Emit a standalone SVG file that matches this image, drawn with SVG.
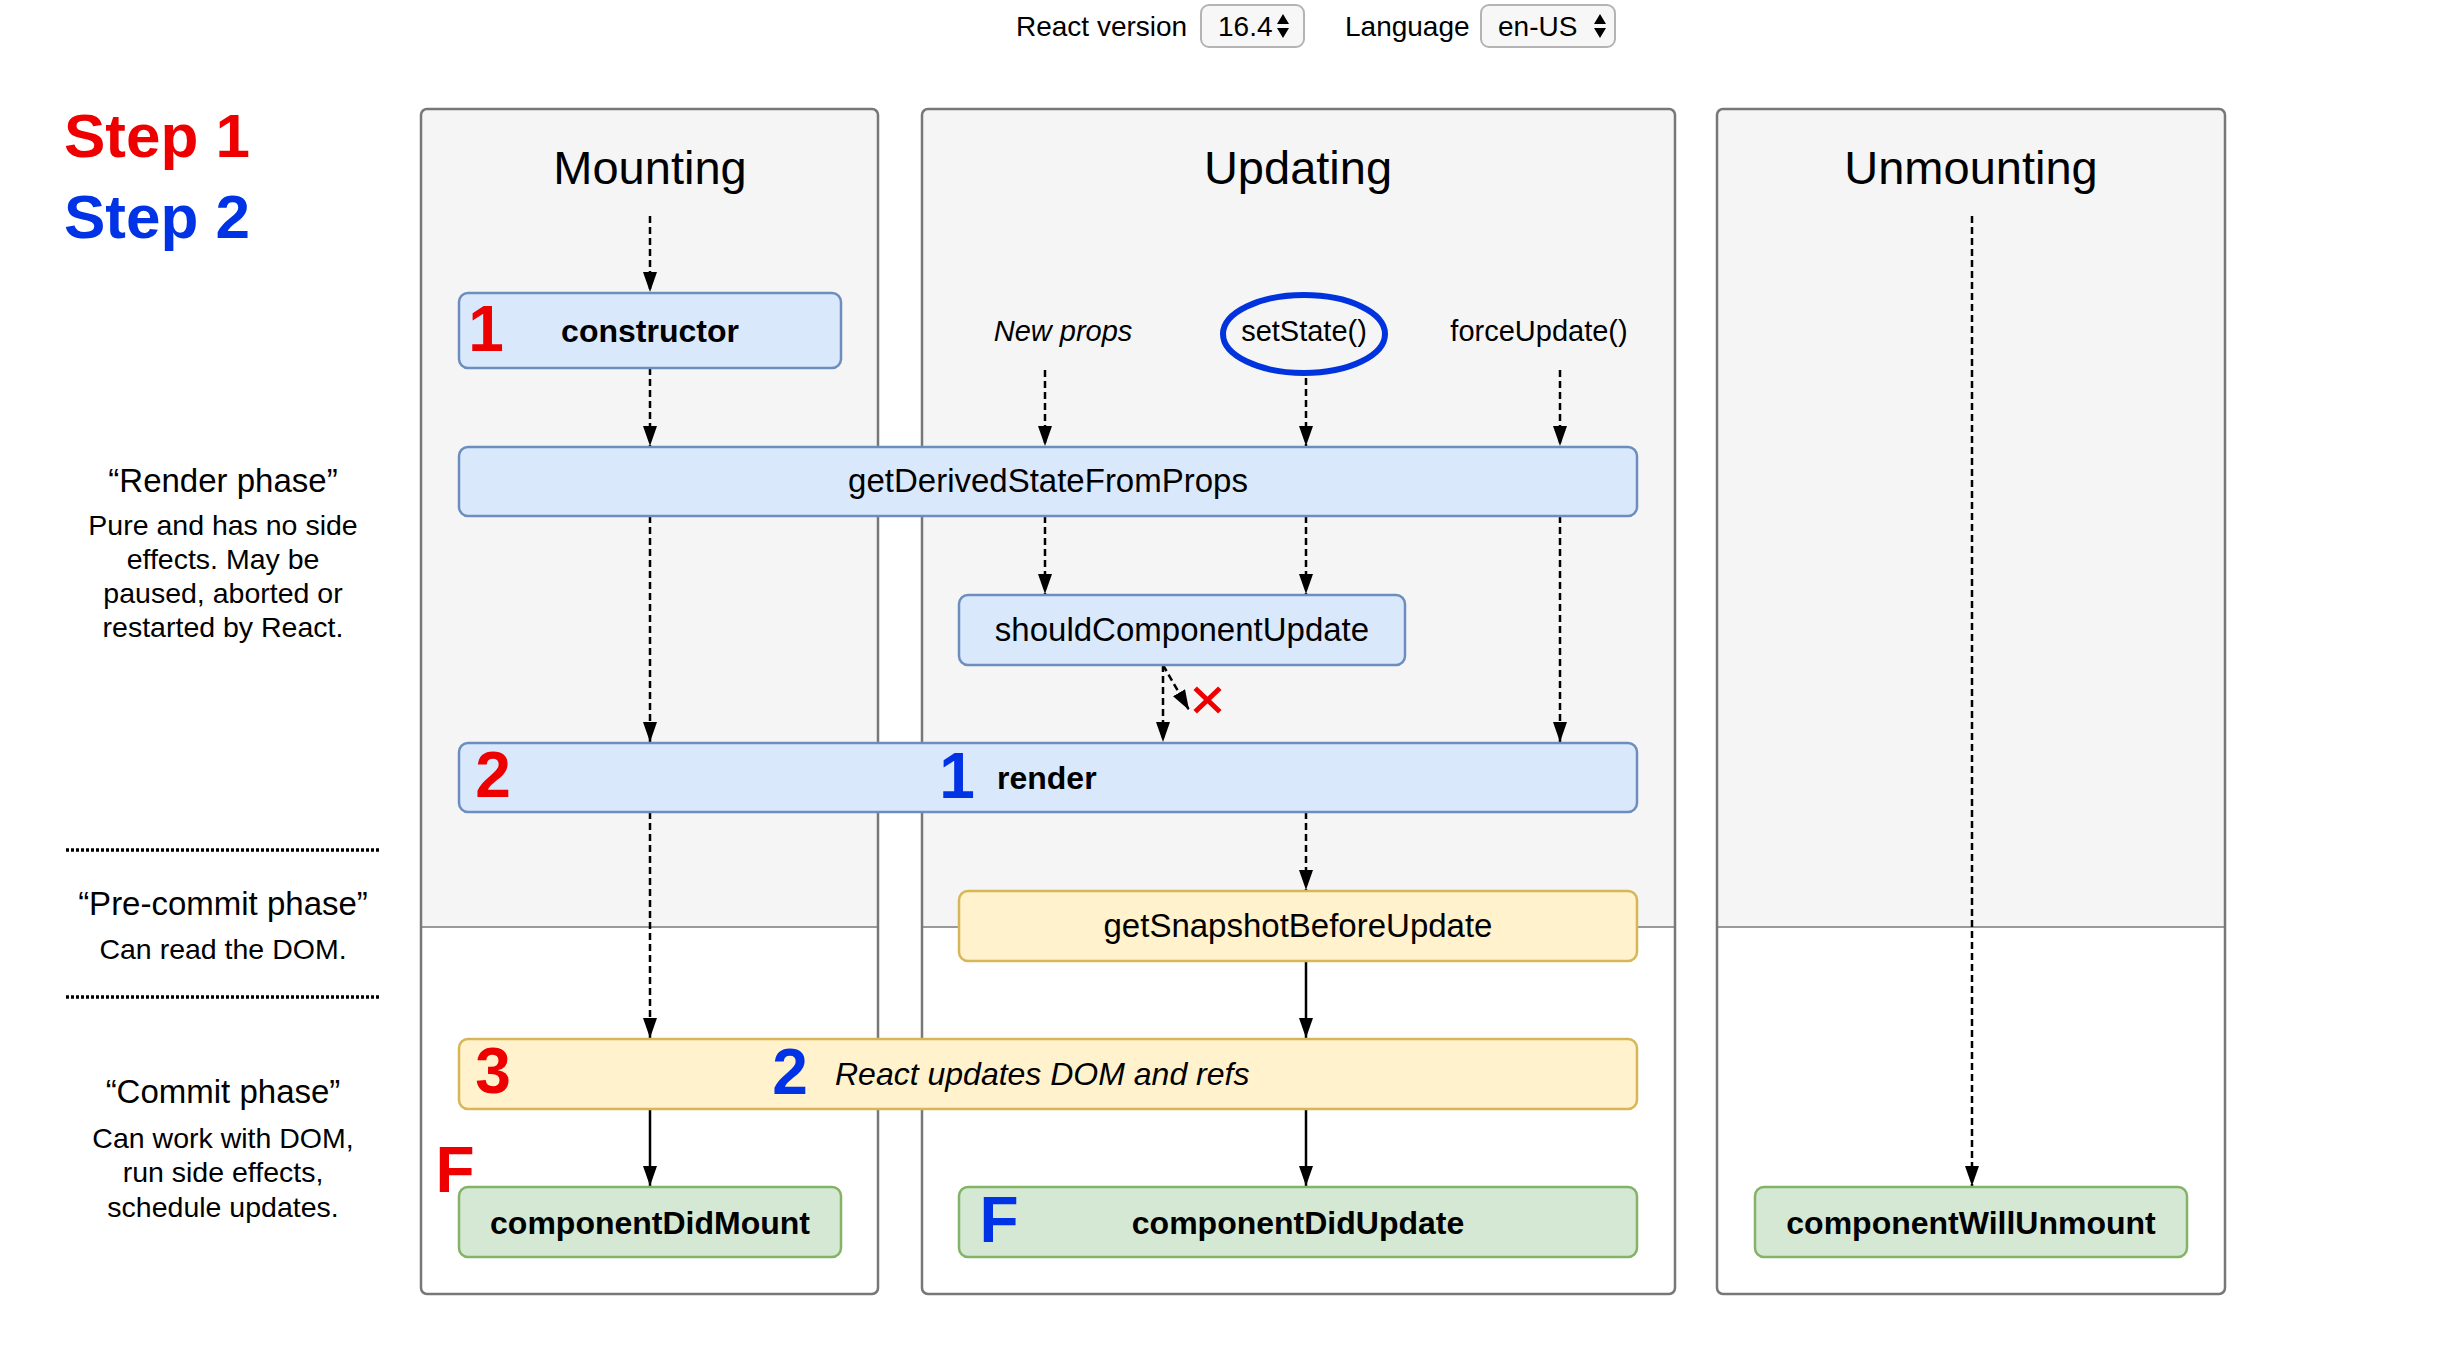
<svg xmlns="http://www.w3.org/2000/svg" width="2438" height="1350" viewBox="0 0 2438 1350">
  <defs>
    <marker id="arrow" viewBox="0 0 20 14" refX="20" refY="7" markerWidth="20" markerHeight="14" markerUnits="userSpaceOnUse" orient="auto">
      <path d="M0,0 L20,7 L0,14 Z" fill="#000"/>
    </marker>
    <style>
      text { font-family: "Liberation Sans", Arial, Helvetica, sans-serif; fill: #000; }
      .ui { font-size: 28px; }
      .select { fill: #f7f7f7; stroke: #b4b4b4; stroke-width: 2; }
      .step { font-size: 62px; font-weight: bold; }
      .red { fill: #ee0000; }
      .blue { fill: #0033e6; }
      .phase-title { font-size: 33px; text-anchor: middle; }
      .phase-body { font-size: 28.5px; text-anchor: middle; }
      .dots { stroke: #000; stroke-width: 3.5; stroke-dasharray: 3 2; fill: none; }
      .panel-top { fill: #f5f5f5; }
      .panel-border { fill: none; stroke: #777; stroke-width: 2.5; }
      .panel-sep { stroke: #9a9a9a; stroke-width: 2; }
      .panel-title { font-size: 47px; text-anchor: middle; }
      .trigger { font-size: 29px; text-anchor: middle; }
      .dash { stroke: #000; stroke-width: 2.5; stroke-dasharray: 7 4; fill: none; }
      .solid { stroke: #000; stroke-width: 2.5; fill: none; }
      .box-blue { fill: #dae8fc; stroke: #6c8ebf; stroke-width: 2.5; }
      .box-yellow { fill: #fff2cc; stroke: #d6b656; stroke-width: 2.5; }
      .box-green { fill: #d5e8d4; stroke: #82b366; stroke-width: 2.5; }
      .label { font-size: 33px; text-anchor: middle; }
      .label-bold { font-size: 32px; font-weight: bold; }
      .num { font-size: 64px; font-weight: bold; text-anchor: middle; }
    </style>
  </defs>

  <rect width="2438" height="1350" fill="#fff"/>

  <!-- version / language pickers -->
  <g id="toolbar">
    <text class="ui" x="1016" y="36">React version</text>
    <rect class="select" x="1201" y="5" width="103" height="42" rx="8"/>
    <text class="ui" x="1218" y="36">16.4</text>
    <path d="M1283,14 L1289,24 L1277,24 Z M1277,28 L1289,28 L1283,38 Z" fill="#000"/>
    <text class="ui" x="1345" y="36">Language</text>
    <rect class="select" x="1481" y="5" width="134" height="42" rx="8"/>
    <text class="ui" x="1498" y="36">en-US</text>
    <path d="M1600,14 L1606,24 L1594,24 Z M1594,28 L1606,28 L1600,38 Z" fill="#000"/>
  </g>

  <!-- step legend -->
  <g id="legend">
    <text class="step red" x="64" y="157">Step 1</text>
    <text class="step blue" x="64" y="238">Step 2</text>
  </g>

  <!-- phase descriptions -->
  <g id="phases">
    <text class="phase-title" x="223" y="492">“Render phase”</text>
    <text class="phase-body" x="223" y="535">Pure and has no side</text>
    <text class="phase-body" x="223" y="569">effects. May be</text>
    <text class="phase-body" x="223" y="603">paused, aborted or</text>
    <text class="phase-body" x="223" y="637">restarted by React.</text>
    <line class="dots" x1="66" y1="850" x2="380" y2="850"/>
    <text class="phase-title" x="223" y="915">“Pre-commit phase”</text>
    <text class="phase-body" x="223" y="959">Can read the DOM.</text>
    <line class="dots" x1="66" y1="997" x2="380" y2="997"/>
    <text class="phase-title" x="223" y="1103">“Commit phase”</text>
    <text class="phase-body" x="223" y="1148">Can work with DOM,</text>
    <text class="phase-body" x="223" y="1182">run side effects,</text>
    <text class="phase-body" x="223" y="1217">schedule updates.</text>
  </g>

  <!-- lifecycle columns -->
  <g id="panel-mounting">
    <rect x="421" y="109" width="457" height="1185" rx="6" fill="#fff"/>
    <path class="panel-top" d="M421,927 V115 Q421,109 427,109 H872 Q878,109 878,115 V927 Z"/>
    <line class="panel-sep" x1="421" y1="927" x2="878" y2="927"/>
    <rect class="panel-border" x="421" y="109" width="457" height="1185" rx="6"/>
    <text class="panel-title" x="650" y="184">Mounting</text>
  </g>
  <g id="panel-updating">
    <rect x="922" y="109" width="753" height="1185" rx="6" fill="#fff"/>
    <path class="panel-top" d="M922,927 V115 Q922,109 928,109 H1669 Q1675,109 1675,115 V927 Z"/>
    <line class="panel-sep" x1="922" y1="927" x2="1675" y2="927"/>
    <rect class="panel-border" x="922" y="109" width="753" height="1185" rx="6"/>
    <text class="panel-title" x="1298" y="184">Updating</text>
  </g>
  <g id="panel-unmounting">
    <rect x="1717" y="109" width="508" height="1185" rx="6" fill="#fff"/>
    <path class="panel-top" d="M1717,927 V115 Q1717,109 1723,109 H2219 Q2225,109 2225,115 V927 Z"/>
    <line class="panel-sep" x1="1717" y1="927" x2="2225" y2="927"/>
    <rect class="panel-border" x="1717" y="109" width="508" height="1185" rx="6"/>
    <text class="panel-title" x="1971" y="184">Unmounting</text>
  </g>

  <!-- update triggers -->
  <g id="triggers">
    <text class="trigger" x="1063" y="341" font-style="italic">New props</text>
    <g id="setState">
      <ellipse cx="1304" cy="334" rx="81" ry="39" fill="none" stroke="#0033dd" stroke-width="6"/>
      <text class="trigger" x="1304" y="341">setState()</text>
    </g>
    <text class="trigger" x="1539" y="341">forceUpdate()</text>
  </g>

  <!-- connectors -->
  <g id="connectors">
    <line class="dash" x1="650" y1="216" x2="650" y2="292" marker-end="url(#arrow)"/>
    <line class="dash" x1="650" y1="368" x2="650" y2="446" marker-end="url(#arrow)"/>
    <line class="dash" x1="650" y1="516" x2="650" y2="742" marker-end="url(#arrow)"/>
    <line class="dash" x1="650" y1="812" x2="650" y2="1038" marker-end="url(#arrow)"/>
    <line class="solid" x1="650" y1="1109" x2="650" y2="1186" marker-end="url(#arrow)"/>

    <line class="dash" x1="1045" y1="370" x2="1045" y2="446" marker-end="url(#arrow)"/>
    <line class="dash" x1="1306" y1="378" x2="1306" y2="446" marker-end="url(#arrow)"/>
    <line class="dash" x1="1560" y1="370" x2="1560" y2="446" marker-end="url(#arrow)"/>
    <line class="dash" x1="1045" y1="516" x2="1045" y2="594" marker-end="url(#arrow)"/>
    <line class="dash" x1="1306" y1="516" x2="1306" y2="594" marker-end="url(#arrow)"/>
    <line class="dash" x1="1560" y1="516" x2="1560" y2="742" marker-end="url(#arrow)"/>
    <line class="dash" x1="1163" y1="665" x2="1163" y2="742" marker-end="url(#arrow)"/>
    <line class="dash" x1="1163" y1="665" x2="1189" y2="710" marker-end="url(#arrow)"/>
    <line class="dash" x1="1306" y1="812" x2="1306" y2="890" marker-end="url(#arrow)"/>
    <line class="solid" x1="1306" y1="961" x2="1306" y2="1038" marker-end="url(#arrow)"/>
    <line class="solid" x1="1306" y1="1109" x2="1306" y2="1186" marker-end="url(#arrow)"/>

    <line class="dash" x1="1972" y1="216" x2="1972" y2="1186" marker-end="url(#arrow)"/>
  </g>

  <!-- skipped render mark -->
  <g id="no-update" stroke="#ee0000" stroke-width="5" stroke-linecap="square">
    <line x1="1197" y1="690" x2="1218" y2="710"/>
    <line x1="1218" y1="690" x2="1197" y2="710"/>
  </g>

  <!-- lifecycle methods -->
  <g id="constructor">
    <rect class="box-blue" x="459" y="293" width="382" height="75" rx="9"/>
    <text class="num red" x="486" y="351">1</text>
    <text class="label-bold" x="650" y="342" text-anchor="middle">constructor</text>
  </g>
  <g id="getDerivedStateFromProps">
    <rect class="box-blue" x="459" y="447" width="1178" height="69" rx="9"/>
    <text class="label" x="1048" y="492">getDerivedStateFromProps</text>
  </g>
  <g id="shouldComponentUpdate">
    <rect class="box-blue" x="959" y="595" width="446" height="70" rx="9"/>
    <text class="label" x="1182" y="641">shouldComponentUpdate</text>
  </g>
  <g id="render">
    <rect class="box-blue" x="459" y="743" width="1178" height="69" rx="9"/>
    <text class="num red" x="493" y="797">2</text>
    <text class="num blue" x="957" y="798">1</text>
    <text class="label-bold" x="997" y="789">render</text>
  </g>
  <g id="getSnapshotBeforeUpdate">
    <rect class="box-yellow" x="959" y="891" width="678" height="70" rx="9"/>
    <text class="label" x="1298" y="937">getSnapshotBeforeUpdate</text>
  </g>
  <g id="dom-update">
    <rect class="box-yellow" x="459" y="1039" width="1178" height="70" rx="9"/>
    <text class="num red" x="493" y="1093">3</text>
    <text class="num blue" x="790" y="1094">2</text>
    <text x="835" y="1085" font-size="32" font-style="italic">React updates DOM and refs</text>
  </g>
  <g id="componentDidMount">
    <rect class="box-green" x="459" y="1187" width="382" height="70" rx="9"/>
    <text class="num red" x="455" y="1192">F</text>
    <text class="label-bold" x="650" y="1234" text-anchor="middle">componentDidMount</text>
  </g>
  <g id="componentDidUpdate">
    <rect class="box-green" x="959" y="1187" width="678" height="70" rx="9"/>
    <text class="num blue" x="999" y="1242">F</text>
    <text class="label-bold" x="1298" y="1234" text-anchor="middle">componentDidUpdate</text>
  </g>
  <g id="componentWillUnmount">
    <rect class="box-green" x="1755" y="1187" width="432" height="70" rx="9"/>
    <text class="label-bold" x="1971" y="1234" text-anchor="middle">componentWillUnmount</text>
  </g>
</svg>
